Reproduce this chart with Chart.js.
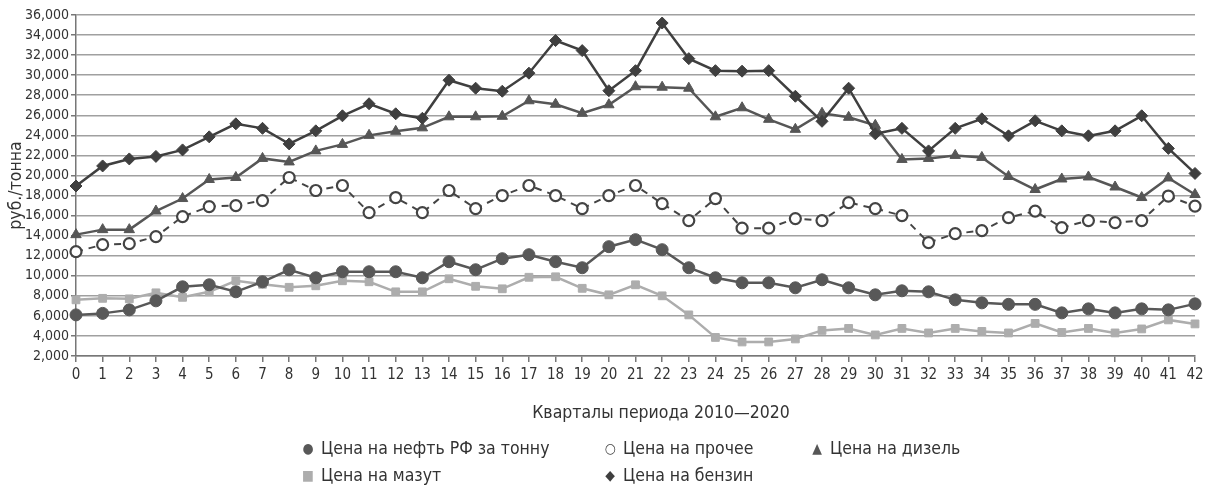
<!DOCTYPE html>
<html>
<head>
<meta charset="utf-8">
<script src="https://cdn.jsdelivr.net/npm/chart.js@4/dist/chart.umd.min.js"></script>
<style>
  html, body { margin: 0; padding: 0; background: #fff; }
  #wrap { position: relative; width: 1209px; height: 486px; }
  #legend { position: absolute; left: 0; top: 0; width: 1209px; height: 486px; pointer-events: none;
    font-family: "Liberation Sans Narrow", "DejaVu Sans Condensed", sans-serif; font-size: 17.5px; color: #333; }
  .item { position: absolute; white-space: nowrap; line-height: 22px; transform: translateY(-50%); }
  .mk { display: inline-block; width: 12px; text-align: center; margin-right: 7px; font-size: 14px; vertical-align: 1px; }
  #xtitle { position: absolute; white-space: nowrap; transform: translate(-50%, -50%); }
</style>
</head>
<body>
<div id="wrap">
  <canvas id="chart" width="1209" height="486"></canvas>
  <div id="legend"></div>
</div>
<script>
// --- данные ---
const quarters = Array.from({ length: 43 }, (_, i) => String(i));
const yTicks = [2000, 4000, 6000, 8000, 10000, 12000, 14000, 16000, 18000, 20000, 22000, 24000, 26000, 28000, 30000, 32000, 34000, 36000];

const oil = [6100, 6250, 6600, 7500, 8900, 9100, 8400, 9400, 10600, 9800, 10400, 10400, 10400, 9800, 11400, 10600, 11700, 12100, 11400, 10800, 12900,
  13600, 12600, 10800, 9800, 9300, 9300, 8800, 9600, 8800, 8100, 8500, 8400, 7600, 7300, 7150, 7150, 6300, 6700, 6300, 6700, 6600, 7200];
const other = [12400, 13100, 13200, 13900, 15900, 16900, 17000, 17500, 19800, 18500, 19000, 16300, 17800, 16300, 18500, 16700, 18000, 19000, 18000, 16700, 18000,
  19000, 17200, 15500, 17700, 14750, 14750, 15700, 15500, 17300, 16700, 16000, 13300, 14200, 14500, 15800, 16450, 14800, 15500, 15300, 15500, 17950, 16950];
const diesel = [14100, 14600, 14600, 16450, 17700, 19600, 19800, 21700, 21350, 22450, 23100, 24000, 24400, 24750, 25850, 25850, 25900, 27450, 27100, 26200, 27050,
  28850, 28800, 28700, 25850, 26750, 25600, 24600, 26200, 25800, 25000, 21600, 21700, 22000, 21800, 19900, 18600, 19650, 19850, 18850, 17800, 19750, 18100];
const mazut = [7600, 7750, 7700, 8300, 7850, 8400, 9500, 9150, 8850, 9000, 9500, 9400, 8400, 8400, 9700, 8950, 8700, 9850, 9900, 8750, 8100,
  9100, 8000, 6100, 3850, 3400, 3400, 3700, 4550, 4750, 4100, 4750, 4300, 4750, 4450, 4300, 5250, 4350, 4750, 4300, 4700, 5600, 5200];
const petrol = [18950, 20950, 21650, 21900, 22550, 23850, 25150, 24700, 23150, 24450, 25950, 27150, 26150, 25700, 29500, 28700, 28400, 30200, 33450, 32450, 28450,
  30450, 35200, 31650, 30450, 30400, 30450, 27900, 25400, 28700, 24150, 24700, 22450, 24700, 25650, 23950, 25450, 24450, 23950, 24450, 25950, 22700, 20200];

const seriesNames = ['Цена на нефть РФ за тонну', 'Цена на прочее', 'Цена на дизель', 'Цена на мазут', 'Цена на бензин'];
const xTitle = 'Кварталы периода 2010—2020';
const yTitle = 'руб./тонна';

const FONT = '"Liberation Sans Narrow", "DejaVu Sans Condensed", sans-serif';
const TXT = '#333';

function ds(label, data, color, style, extra) {
  return Object.assign({
    label: label, data: data,
    borderColor: color, backgroundColor: color,
    pointBackgroundColor: color, pointBorderColor: color,
    pointStyle: style, pointRadius: 5, pointBorderWidth: 1,
    borderWidth: 2.5, tension: 0, fill: false
  }, extra || {});
}

const datasets = [
  ds(seriesNames[4], petrol, '#3f3f3f', 'rectRot', { pointRadius: 6 }),
  ds(seriesNames[2], diesel, '#565656', 'triangle', { pointRadius: 6 }),
  ds(seriesNames[1], other, '#444', 'circle', { borderDash: [7, 6], borderWidth: 2, pointBackgroundColor: '#fff', pointBorderWidth: 2.2, pointRadius: 5.5 }),
  ds(seriesNames[0], oil, '#585858', 'circle', { pointRadius: 6 }),
  ds(seriesNames[3], mazut, '#adadad', 'rect', { pointRadius: 5.5 })
];

new Chart(document.getElementById('chart'), {
  type: 'line',
  data: { labels: quarters, datasets: datasets },
  options: {
    responsive: false,
    animation: false,
    layout: { padding: { left: 6, right: 14, top: 15, bottom: 100 } },
    plugins: { legend: { display: false }, tooltip: { enabled: false } },
    scales: {
      x: {
        offset: false,
        grid: { drawOnChartArea: false, drawTicks: true, tickLength: 6, color: '#777', lineWidth: 1.5 },
        border: { display: true, color: '#777', width: 1.5 },
        ticks: { color: TXT, font: { family: FONT, size: 15 }, maxRotation: 0, autoSkip: false, padding: 4 },
        afterFit: s => { s.height = 30; }
      },
      y: {
        min: 2000, max: 36000,
        afterBuildTicks: s => { s.ticks = yTicks.map(v => ({ value: v })); },
        grid: { color: '#a0a0a0', lineWidth: 1.5, tickLength: 5, tickColor: '#777' },
        border: { display: true, color: '#777', width: 1.5 },
        ticks: { color: TXT, font: { family: FONT, size: 14 }, padding: 2, autoSkip: false, callback: v => v.toLocaleString('en-US') },
        title: { display: true, text: yTitle, color: TXT, font: { family: FONT, size: 17.5 }, padding: 0 },
        afterFit: s => { s.width = 70; }
      }
    }
  }
});

// подпись оси X и легенда
const legendEl = document.getElementById('legend');
const xt = document.createElement('div');
xt.id = 'xtitle';
xt.style.left = '661px';
xt.style.top = '412px';
xt.textContent = xTitle;
legendEl.appendChild(xt);

const legendItems = [
  { name: seriesNames[0], mark: '●', color: '#585858', x: 302, y: 448 },
  { name: seriesNames[1], mark: '○', color: '#444', x: 604, y: 448 },
  { name: seriesNames[2], mark: '▲', color: '#565656', x: 811, y: 448 },
  { name: seriesNames[3], mark: '■', color: '#adadad', x: 302, y: 475 },
  { name: seriesNames[4], mark: '◆', color: '#3f3f3f', x: 604, y: 475 }
];
legendItems.forEach(it => {
  const d = document.createElement('div');
  d.className = 'item';
  d.style.left = it.x + 'px';
  d.style.top = it.y + 'px';
  d.innerHTML = `<span class="mk" style="color:${it.color}">${it.mark}</span>${it.name}`;
  legendEl.appendChild(d);
});
</script>
</body>
</html>
